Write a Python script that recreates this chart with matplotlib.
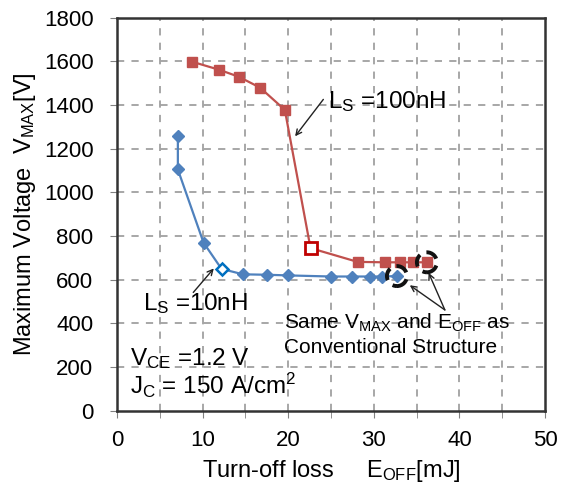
import numpy as np
import matplotlib
matplotlib.use("Agg")
import matplotlib.pyplot as plt
from matplotlib.patches import Ellipse

plt.rcParams['font.family'] = 'Liberation Sans'
plt.rcParams['mathtext.fontset'] = 'custom'
plt.rcParams['mathtext.rm'] = 'Liberation Sans'
plt.rcParams['mathtext.it'] = 'Liberation Sans'

# data
eoff_100 = [8.8, 11.9, 14.2, 16.7, 19.6, 22.6, 28.1, 31.3, 33.1, 34.6, 36.2]
vmax_100 = [1598, 1562, 1530, 1480, 1378, 745, 682, 680, 680, 680, 680]
eoff_10 = [7.1, 7.1, 10.1, 12.2, 14.7, 17.5, 20.0, 25.0, 27.5, 29.5, 31.0, 32.7]
vmax_10 = [1260, 1105, 770, 650, 625, 623, 620, 615, 615, 615, 615, 617]
hollow_100 = 5
hollow_10 = 3

red = '#C0504D'
blue = '#4F81BD'

fig = plt.figure(figsize=(5.63, 4.92), dpi=100)
ax = fig.add_axes([0.208, 0.165, 0.760, 0.799])

ax.plot(eoff_100, vmax_100, color=red, lw=1.6, marker='s', ms=7,
        mfc=red, mec=red, zorder=3)
ax.plot(eoff_10, vmax_10, color=blue, lw=1.6, marker='D', ms=6,
        mfc=blue, mec=blue, zorder=3)
ax.plot(eoff_100[hollow_100], vmax_100[hollow_100], marker='s', ms=8,
        mfc='white', mec='#C00000', mew=2, zorder=4)
ax.plot(eoff_10[hollow_10], vmax_10[hollow_10], marker='D', ms=6.5,
        mfc='white', mec='#0070C0', mew=1.8, zorder=4)

ax.set_xlim(0, 50)
ax.set_ylim(0, 1800)
ax.set_xticks(np.arange(0, 51, 10))
ax.set_xticks(np.arange(5, 50, 10), minor=True)
ax.set_yticks(np.arange(0, 1801, 200))
ax.tick_params(labelsize=16, direction='out', length=5, color='#808080')
ax.tick_params(which='minor', direction='out', length=5, color='#808080')
ax.tick_params(axis='x', pad=9)
ax.tick_params(axis='y', pad=12)
for g in np.arange(5, 50, 5):
    ax.axvline(g, color='#a0a0a0', ls=(0, (4, 4)), lw=1.3, zorder=1)
for g in np.arange(200, 1800, 200):
    ax.axhline(g, color='#a0a0a0', ls=(0, (4, 4)), lw=1.3, zorder=1)
for s in ax.spines.values():
    s.set_color('#333333')
    s.set_linewidth(1.8)

ax.set_xlabel('Turn-off loss     E$_{\\mathrm{OFF}}$[mJ]', fontsize=17, labelpad=5)
ax.set_ylabel('Maximum Voltage  V$_{\\mathrm{MAX}}$[V]', fontsize=17, labelpad=4)

ap = dict(arrowstyle='->', color='#222222', lw=1.0, shrinkA=0, shrinkB=0)
ax.text(24.6, 1418, 'L$_{\\mathrm{S}}$ =100nH', fontsize=17.5, va='center', ha='left')
ax.annotate('', xy=(20.8, 1257), xytext=(24.1, 1426), arrowprops=ap)
ax.text(3.0, 490, 'L$_{\\mathrm{S}}$ =10nH', fontsize=17.5, va='center', ha='left')
ax.annotate('', xy=(11.3, 652), xytext=(8.9, 542), arrowprops=ap)

ax.text(1.5, 240, 'V$_{\\mathrm{CE}}$ =1.2 V', fontsize=17.5, va='center')
ax.text(1.5, 115, 'J$_{\\mathrm{C}}$ = 150 A/cm$^{2}$', fontsize=17.5, va='center')
ax.text(19.5, 405, 'Same V$_{\\mathrm{MAX}}$ and E$_{\\mathrm{OFF}}$ as',
        fontsize=15, va='center')
ax.text(19.5, 290, 'Conventional Structure', fontsize=15, va='center')

ax.annotate('', xy=(34.2, 575), xytext=(38.3, 462), arrowprops=ap)
ax.annotate('', xy=(36.4, 632), xytext=(38.3, 462), arrowprops=ap)

# dashed circles round the last points
rpx = 10
sx = 50 / (0.760 * 563)
sy = 1800 / (0.799 * 492)
for cx, cy in [(eoff_10[-1], vmax_10[-1]), (eoff_100[-1], vmax_100[-1])]:
    ax.add_patch(Ellipse((cx, cy), 2 * rpx * sx, 2 * rpx * sy, fill=False,
                         ec='#111111', lw=2.8, ls=(0, (3.2, 1.8)), zorder=5))

fig.savefig('out.png', dpi=100)
